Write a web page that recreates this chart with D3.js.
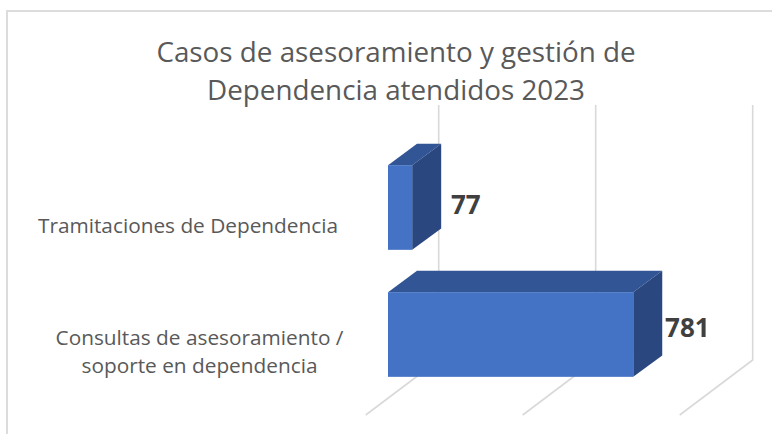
<!DOCTYPE html>
<html>
<head>
<meta charset="utf-8">
<script src="https://cdn.jsdelivr.net/npm/d3@7"></script>
<style>
html, body { margin: 0; padding: 0; background: #fff; }
svg { display: block; font-family: "Open Sans", sans-serif; }
</style>
</head>
<body>
<svg width="772" height="434"></svg>
<script>
var categories = ["Tramitaciones de Dependencia", "Consultas de asesoramiento / soporte en dependencia"];
var values = [77, 781];
var gridTicks = [0, 500, 1000];
var titleLines = ["Casos de asesoramiento y gestión de", "Dependencia atendidos 2023"];
var categoryLines = [["Tramitaciones de Dependencia"], ["Consultas de asesoramiento /", "soporte en dependencia"]];

var svg = d3.select("svg");

// oblique 3D offsets, measured on the picture
var depthX = 29, depthY = -21.3;
var wallX = 50.7, floorX = -22.3;
var wallTop = 105, wallBottom = 360, floorBottom = 415;

// value labels do not sit at the same spot on both bars
var labelDx = [9.8, 2.8], labelDy = [6.6, 2.3];
var categoryCx = [188, 199.5], categoryBase = [232.7, 345];

var x = d3.scaleLinear().domain([0, 1000]).range([388, 702]);
var y = d3.scaleBand().domain(categories).range([144, 398]).paddingInner(1 / 3).paddingOuter(1 / 6);

svg.append("rect")
    .attr("x", 7).attr("y", 11)
    .attr("width", 790).attr("height", 440)
    .attr("fill", "#fff").attr("stroke", "#dcdcdc").attr("stroke-width", 2);

var title = svg.append("text")
    .attr("text-anchor", "middle")
    .attr("fill", "#595959")
    .style("font-size", "27.8px");
title.selectAll("tspan").data(titleLines).enter().append("tspan")
    .attr("x", 396)
    .attr("y", function (d, i) { return 62 + i * 38; })
    .text(function (d) { return d; });

// back wall and floor lines
var grid = svg.append("g").attr("fill", "none").attr("stroke", "#d9d9d9").attr("stroke-width", 1.6);
grid.selectAll("path").data(gridTicks).enter().append("path")
    .attr("d", function (d) {
        return "M" + (x(d) + wallX) + "," + wallTop +
            "V" + wallBottom +
            "L" + (x(d) + floorX) + "," + floorBottom;
    });

var bars = svg.append("g").selectAll("g")
    .data(categories)
    .enter().append("g");

// top face
bars.append("path")
    .attr("fill", "#325595")
    .attr("d", function (d, i) {
        var x0 = x(0), x1 = x(values[i]), t = y(d);
        return "M" + x0 + "," + t + "L" + x1 + "," + t +
            "L" + (x1 + depthX) + "," + (t + depthY) +
            "L" + (x0 + depthX) + "," + (t + depthY) + "Z";
    });

// side face
bars.append("path")
    .attr("fill", "#2a4780")
    .attr("d", function (d, i) {
        var x1 = x(values[i]), t = y(d), b = t + y.bandwidth();
        return "M" + x1 + "," + t +
            "L" + (x1 + depthX) + "," + (t + depthY) +
            "L" + (x1 + depthX) + "," + (b + depthY) +
            "L" + x1 + "," + b + "Z";
    });

// front face
bars.append("rect")
    .attr("fill", "#4472c4")
    .attr("x", x(0))
    .attr("y", function (d) { return y(d); })
    .attr("width", function (d, i) { return x(values[i]) - x(0); })
    .attr("height", y.bandwidth());

// value labels
bars.append("text")
    .attr("x", function (d, i) { return x(values[i]) + depthX + labelDx[i]; })
    .attr("y", function (d, i) { return y(d) + y.bandwidth() / 2 + labelDy[i]; })
    .attr("fill", "#404040")
    .style("font-size", "26px")
    .style("font-weight", "700")
    .text(function (d, i) { return values[i]; });

// category labels
var labels = svg.append("g").selectAll("text")
    .data(categories)
    .enter().append("text")
    .attr("text-anchor", "middle")
    .attr("fill", "#595959")
    .style("font-size", "20.8px");
labels.selectAll("tspan")
    .data(function (d, i) { return categoryLines[i].map(function (l, k) { return {line: l, k: k, i: i}; }); })
    .enter().append("tspan")
    .attr("x", function (d) { return categoryCx[d.i]; })
    .attr("y", function (d) { return categoryBase[d.i] + d.k * 28; })
    .text(function (d) { return d.line; });
</script>
</body>
</html>
